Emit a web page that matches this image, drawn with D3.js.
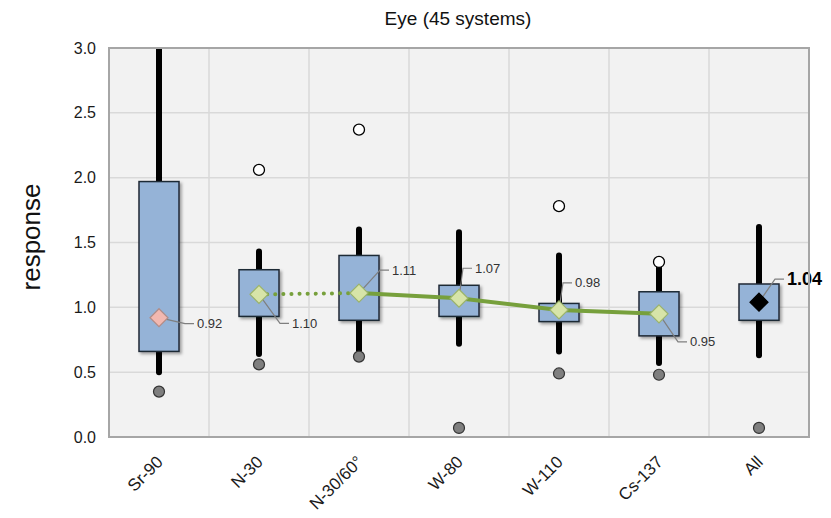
<!DOCTYPE html>
<html>
<head>
<meta charset="utf-8">
<script src="https://cdn.jsdelivr.net/npm/d3@7"></script>
<style>
  body { margin: 0; background: #fff; }
  text { font-family: "Liberation Sans", Arial, sans-serif; }
</style>
</head>
<body>
<div id="chart"></div>
<script>
const categories = ["Sr-90", "N-30", "N-30/60°", "W-80", "W-110", "Cs-137", "All"];
const q1 = [0.66, 0.93, 0.90, 0.93, 0.89, 0.78, 0.90];
const q3 = [1.97, 1.29, 1.40, 1.17, 1.03, 1.12, 1.18];
const whiskerLow = [0.50, 0.64, 0.66, 0.72, 0.66, 0.57, 0.63];
const whiskerHigh = [3.0, 1.43, 1.60, 1.58, 1.40, 1.31, 1.62];
const lowOutlier = [0.35, 0.56, 0.62, 0.07, 0.49, 0.48, 0.07];
const highOutlier = [null, 2.06, 2.37, null, 1.78, 1.35, null];
const means = [0.92, 1.10, 1.11, 1.07, 0.98, 0.95, 1.04];
const meanLabels = ["0.92", "1.10", "1.11", "1.07", "0.98", "0.95", "1.04"];
const yTicks = [0, 0.5, 1, 1.5, 2, 2.5, 3];

// leader line bend / label offsets (px) relative to the diamond
const labelPos = [[26, 6], [21, 29], [21, -23], [4, -30], [4, -27], [19, 28], [16, -23]];

const width = 831, height = 518;
const margin = { left: 109, right: 22, top: 48, bottom: 81 };

const svg = d3.select("#chart").append("svg")
  .attr("width", width).attr("height", height);

const defs = svg.append("defs");
defs.append("clipPath").attr("id", "plotClip")
  .append("rect")
  .attr("x", margin.left).attr("y", margin.top)
  .attr("width", width - margin.left - margin.right)
  .attr("height", height - margin.top - margin.bottom);
const shadow = defs.append("filter").attr("id", "shadow")
  .attr("x", "-20%").attr("y", "-20%").attr("width", "150%").attr("height", "150%");
shadow.append("feDropShadow")
  .attr("dx", 2).attr("dy", 2).attr("stdDeviation", 1.5)
  .attr("flood-color", "#000").attr("flood-opacity", 0.35);

const x = d3.scaleBand()
  .domain(categories)
  .range([margin.left, width - margin.right]);
const y = d3.scaleLinear()
  .domain([0, 3])
  .range([height - margin.bottom, margin.top]);
const cx = (i) => x(categories[i]) + x.bandwidth() / 2;

// plot background
svg.append("rect")
  .attr("x", margin.left).attr("y", margin.top)
  .attr("width", width - margin.left - margin.right)
  .attr("height", height - margin.top - margin.bottom)
  .attr("fill", "#f2f2f2");

// grid
svg.append("g")
  .selectAll("line")
  .data(yTicks)
  .join("line")
  .attr("x1", margin.left).attr("x2", width - margin.right)
  .attr("y1", (d) => y(d)).attr("y2", (d) => y(d))
  .attr("stroke", "#d9d9d9").attr("stroke-width", 1.5);
svg.append("g")
  .selectAll("line")
  .data(categories.slice(1))
  .join("line")
  .attr("x1", (d) => x(d)).attr("x2", (d) => x(d))
  .attr("y1", margin.top).attr("y2", height - margin.bottom)
  .attr("stroke", "#d9d9d9").attr("stroke-width", 1.5);

// y axis
const yAxis = svg.append("g")
  .attr("transform", `translate(${margin.left},0)`)
  .call(d3.axisLeft(y).tickValues(yTicks).tickFormat(d3.format(".1f")).tickSize(0).tickPadding(13));
yAxis.select(".domain").remove();
yAxis.selectAll("text")
  .attr("font-size", 16).attr("fill", "#1a1a1a")
  .style("font-family", "'Liberation Sans', Arial, sans-serif");

// x axis
const xAxis = svg.append("g")
  .attr("transform", `translate(0,${height - margin.bottom})`)
  .call(d3.axisBottom(x).tickSize(0).tickPadding(0));
xAxis.select(".domain").remove();
xAxis.selectAll("text")
  .attr("font-size", 17).attr("fill", "#1a1a1a")
  .style("font-family", "'Liberation Sans', Arial, sans-serif")
  .attr("text-anchor", "end")
  .attr("dy", null)
  .attr("transform", "translate(5,26) rotate(-45)");

const plot = svg.append("g").attr("clip-path", "url(#plotClip)");

// whiskers
plot.append("g")
  .selectAll("line")
  .data(categories)
  .join("line")
  .attr("x1", (d, i) => cx(i)).attr("x2", (d, i) => cx(i))
  .attr("y1", (d, i) => y(whiskerLow[i])).attr("y2", (d, i) => y(whiskerHigh[i]))
  .attr("stroke", "#000").attr("stroke-width", 6).attr("stroke-linecap", "round");

// boxes
const boxW = 40;
plot.append("g")
  .selectAll("rect")
  .data(categories)
  .join("rect")
  .attr("x", (d, i) => cx(i) - boxW / 2)
  .attr("y", (d, i) => y(q3[i]))
  .attr("width", boxW)
  .attr("height", (d, i) => y(q1[i]) - y(q3[i]))
  .attr("fill", "#95b3d7")
  .attr("stroke", "#1f2a36").attr("stroke-width", 1.5)
  .attr("filter", "url(#shadow)");

// outliers
plot.append("g")
  .selectAll("circle")
  .data(categories)
  .join("circle")
  .attr("cx", (d, i) => cx(i)).attr("cy", (d, i) => y(lowOutlier[i]))
  .attr("r", 5.5)
  .attr("fill", "#7f7f7f").attr("stroke", "#333").attr("stroke-width", 1.2);
plot.append("g")
  .selectAll("circle")
  .data(categories.map((c, i) => i).filter((i) => highOutlier[i] != null))
  .join("circle")
  .attr("cx", (i) => cx(i)).attr("cy", (i) => y(highOutlier[i]))
  .attr("r", 5.5)
  .attr("fill", "#fff").attr("stroke", "#000").attr("stroke-width", 1.3);

// mean line: dotted N-30 -> N-30/60, solid N-30/60 -> Cs-137
const line = d3.line().x((i) => cx(i)).y((i) => y(means[i]));
plot.append("path")
  .attr("d", line([1, 2]))
  .attr("fill", "none").attr("stroke", "#77a03c")
  .attr("stroke-width", 4).attr("stroke-linecap", "round")
  .attr("stroke-dasharray", "0.1 8");
plot.append("path")
  .attr("d", line([2, 3, 4, 5]))
  .attr("fill", "none").attr("stroke", "#77a03c")
  .attr("stroke-width", 4);

// leader lines + labels
const labels = svg.append("g");
means.forEach((m, i) => {
  const x0 = cx(i), y0 = y(m);
  const [dx, dy] = labelPos[i];
  labels.append("polyline")
    .attr("points", `${x0},${y0} ${x0 + dx},${y0 + dy} ${x0 + dx + 9},${y0 + dy}`)
    .attr("fill", "none").attr("stroke", "#7f7f7f").attr("stroke-width", 1.2);
  const isAll = i === categories.length - 1;
  labels.append("text")
    .attr("x", x0 + dx + 12).attr("y", y0 + dy)
    .attr("dy", "0.35em")
    .attr("font-size", isAll ? 18 : 13)
    .attr("font-weight", isAll ? "bold" : "normal")
    .attr("fill", isAll ? "#000" : "#333")
    .text(meanLabels[i]);
});

// mean diamonds
const dSize = 9;
svg.append("g")
  .selectAll("path")
  .data(categories)
  .join("path")
  .attr("d", (d, i) => {
    const x0 = cx(i), y0 = y(means[i]);
    return `M${x0},${y0 - dSize}L${x0 + dSize},${y0}L${x0},${y0 + dSize}L${x0 - dSize},${y0}Z`;
  })
  .attr("fill", (d, i) => i === 0 ? "#f2b8b0" : i === categories.length - 1 ? "#000" : "#d7e4a8")
  .attr("stroke", (d, i) => i === 0 ? "#b08c88" : i === categories.length - 1 ? "#000" : "#9bb36a")
  .attr("stroke-width", 1.2);

// plot border
svg.append("rect")
  .attr("x", margin.left).attr("y", margin.top)
  .attr("width", width - margin.left - margin.right)
  .attr("height", height - margin.top - margin.bottom)
  .attr("fill", "none").attr("stroke", "#a6a6a6").attr("stroke-width", 2);

// titles
svg.append("text")
  .attr("x", 458).attr("y", 25)
  .attr("text-anchor", "middle")
  .attr("font-size", 19).attr("fill", "#111")
  .text("Eye (45 systems)");
svg.append("text")
  .attr("transform", "translate(40,237) rotate(-90)")
  .attr("text-anchor", "middle")
  .attr("font-size", 26).attr("fill", "#111")
  .text("response");
</script>
</body>
</html>
